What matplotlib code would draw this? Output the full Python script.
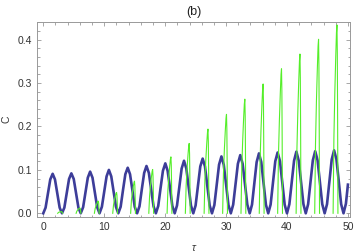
import matplotlib
matplotlib.use("Agg")
import matplotlib.pyplot as plt
from matplotlib.ticker import MultipleLocator

plt.rcParams['font.family'] = ['Liberation Sans', 'DejaVu Sans']

# -------------------------------
# Data
# -------------------------------
# thick blue curve, one row per oscillation
blue_tau = [
    0.00, 0.38, 0.77, 1.15, 1.54, 1.92, 2.30, 2.69,
    3.07, 3.46, 3.84, 4.23, 4.61, 5.00, 5.38, 5.77,
    6.15, 6.54, 6.92, 7.31, 7.69, 8.08, 8.46, 8.85,
    9.23, 9.62, 10.00, 10.39, 10.77, 11.16, 11.54, 11.93,
    12.31, 12.70, 13.08, 13.47, 13.86, 14.24, 14.63, 15.01,
    15.40, 15.79, 16.17, 16.56, 16.94, 17.33, 17.71, 18.10,
    18.48, 18.87, 19.25, 19.64, 20.03, 20.41, 20.80, 21.18,
    21.57, 21.95, 22.33, 22.71, 23.10, 23.48, 23.86, 24.24,
    24.62, 25.00, 25.39, 25.77, 26.16, 26.54, 26.92, 27.31,
    27.69, 28.08, 28.46, 28.85, 29.24, 29.62, 30.01, 30.39,
    30.78, 31.17, 31.56, 31.94, 32.33, 32.72, 33.11, 33.49,
    33.88, 34.26, 34.64, 35.02, 35.40, 35.78, 36.16, 36.54,
    36.92, 37.31, 37.69, 38.08, 38.46, 38.85, 39.23, 39.62,
    40.00, 40.39, 40.77, 41.16, 41.54, 41.93, 42.31, 42.70,
    43.08, 43.47, 43.86, 44.24, 44.63, 45.02, 45.41, 45.79,
    46.18, 46.57, 46.96, 47.34, 47.73, 48.12, 48.51, 48.89,
    49.28, 49.67, 50.00,
]
blue_c = [
    0, 0.013, 0.046, 0.078, 0.091, 0.078, 0.046, 0.013,
    0, 0.013, 0.046, 0.079, 0.092, 0.079, 0.046, 0.013,
    0, 0.014, 0.048, 0.082, 0.096, 0.082, 0.048, 0.014,
    0, 0.015, 0.050, 0.085, 0.100, 0.085, 0.050, 0.015,
    0, 0.015, 0.053, 0.090, 0.105, 0.090, 0.053, 0.015,
    0, 0.016, 0.055, 0.093, 0.109, 0.093, 0.055, 0.016,
    0, 0.017, 0.058, 0.098, 0.115, 0.098, 0.058, 0.017,
    0, 0.018, 0.061, 0.103, 0.121, 0.103, 0.061, 0.018,
    0, 0.018, 0.063, 0.108, 0.126, 0.108, 0.063, 0.018,
    0, 0.019, 0.066, 0.112, 0.131, 0.112, 0.066, 0.019,
    0, 0.020, 0.067, 0.114, 0.134, 0.114, 0.067, 0.020,
    0, 0.020, 0.069, 0.118, 0.138, 0.118, 0.069, 0.020,
    0, 0.020, 0.070, 0.120, 0.140, 0.120, 0.070, 0.020,
    0, 0.021, 0.071, 0.121, 0.142, 0.121, 0.071, 0.021,
    0, 0.021, 0.072, 0.122, 0.143, 0.122, 0.072, 0.021,
    0, 0.021, 0.073, 0.124, 0.145, 0.124, 0.073, 0.021,
    0, 0.022, 0.066,
]

# thin green spikes, one list per spike
green_tau = [
    [2.37, 2.50, 2.65, 2.80, 2.92, 3.00, 3.06, 3.11, 3.16],
    [5.39, 5.52, 5.67, 5.82, 5.94, 6.02, 6.08, 6.13, 6.18],
    [8.39, 8.52, 8.67, 8.82, 8.94, 9.02, 9.08, 9.13, 9.18],
    [11.40, 11.53, 11.68, 11.83, 11.95, 12.03, 12.09, 12.14, 12.19],
    [14.34, 14.47, 14.62, 14.77, 14.89, 14.97, 15.03, 15.08, 15.13],
    [17.32, 17.45, 17.60, 17.75, 17.87, 17.95, 18.01, 18.06, 18.11],
    [20.32, 20.45, 20.60, 20.75, 20.87, 20.95, 21.01, 21.06, 21.11],
    [23.32, 23.45, 23.60, 23.75, 23.87, 23.95, 24.01, 24.06, 24.11],
    [26.40, 26.53, 26.68, 26.83, 26.95, 27.03, 27.09, 27.14, 27.19],
    [29.44, 29.57, 29.72, 29.87, 29.99, 30.07, 30.13, 30.18, 30.23],
    [32.45, 32.58, 32.73, 32.88, 33.00, 33.08, 33.14, 33.19, 33.24],
    [35.45, 35.58, 35.73, 35.88, 36.00, 36.08, 36.14, 36.19, 36.24],
    [38.47, 38.60, 38.75, 38.90, 39.02, 39.10, 39.16, 39.21, 39.26],
    [41.50, 41.63, 41.78, 41.93, 42.05, 42.13, 42.19, 42.24, 42.29],
    [44.55, 44.68, 44.83, 44.98, 45.10, 45.18, 45.24, 45.29, 45.34],
    [47.57, 47.70, 47.85, 48.00, 48.12, 48.20, 48.26, 48.31, 48.36],
]
green_c = [
    [0, 0.002, 0.003, 0.003, 0.004, 0.004, 0.003, 0.002, 0],
    [0, 0.005, 0.008, 0.010, 0.012, 0.012, 0.010, 0.006, 0],
    [0, 0.011, 0.018, 0.023, 0.027, 0.028, 0.024, 0.014, 0],
    [0, 0.019, 0.031, 0.040, 0.046, 0.048, 0.041, 0.024, 0],
    [0, 0.030, 0.047, 0.061, 0.071, 0.074, 0.063, 0.037, 0],
    [0, 0.040, 0.065, 0.084, 0.097, 0.101, 0.086, 0.051, 0],
    [0, 0.052, 0.083, 0.108, 0.125, 0.130, 0.111, 0.065, 0],
    [0, 0.064, 0.103, 0.134, 0.155, 0.161, 0.137, 0.081, 0],
    [0, 0.078, 0.124, 0.161, 0.186, 0.194, 0.165, 0.097, 0],
    [0, 0.091, 0.146, 0.189, 0.219, 0.228, 0.194, 0.114, 0],
    [0, 0.105, 0.168, 0.218, 0.252, 0.263, 0.224, 0.132, 0],
    [0, 0.119, 0.191, 0.247, 0.286, 0.298, 0.253, 0.149, 0],
    [0, 0.133, 0.213, 0.276, 0.320, 0.333, 0.283, 0.167, 0],
    [0, 0.147, 0.235, 0.305, 0.352, 0.367, 0.312, 0.184, 0],
    [0, 0.160, 0.257, 0.333, 0.385, 0.401, 0.341, 0.201, 0],
    [0, 0.174, 0.278, 0.360, 0.417, 0.434, 0.369, 0.217, 0],
]

x_ticks = [0, 10, 20, 30, 40, 50]
y_ticks = [0.0, 0.1, 0.2, 0.3, 0.4]

# -------------------------------
# Plot
# -------------------------------
fig = plt.figure(figsize=(3.54, 2.52), dpi=100)
ax = fig.add_axes([0.1045, 0.139, 0.884, 0.774])

ax.plot(blue_tau, blue_c, color="#3d3d99", lw=1.9, solid_joinstyle="round", zorder=2)
for t, c in zip(green_tau, green_c):
    ax.plot(t, c, color="#55ee2a", lw=0.8, zorder=3)

ax.set_xlim(-1.03, 50.33)
ax.set_ylim(-0.0085, 0.441)
ax.set_xticks(x_ticks)
ax.set_yticks(y_ticks)
ax.set_yticklabels([f"{v:.1f}" for v in y_ticks])
ax.xaxis.set_minor_locator(MultipleLocator(2))
ax.yaxis.set_minor_locator(MultipleLocator(0.02))

ax.tick_params(which="both", direction="in", top=True, right=True,
               colors="#999999", labelcolor="#333333", labelsize=7.5, width=0.6)
ax.tick_params(which="major", length=3.2, pad=3.5)
ax.tick_params(which="minor", length=1.8)
for s in ax.spines.values():
    s.set_color("#999999")
    s.set_linewidth(0.7)

ax.set_xlabel("τ", style="italic", fontsize=7.5, color="#333333", labelpad=8)
ax.set_ylabel("C", fontsize=7.5, color="#333333", labelpad=4.5)
ax.set_title("(b)", fontsize=9, color="#222222", pad=5)

plt.savefig("out.png", dpi=100)
